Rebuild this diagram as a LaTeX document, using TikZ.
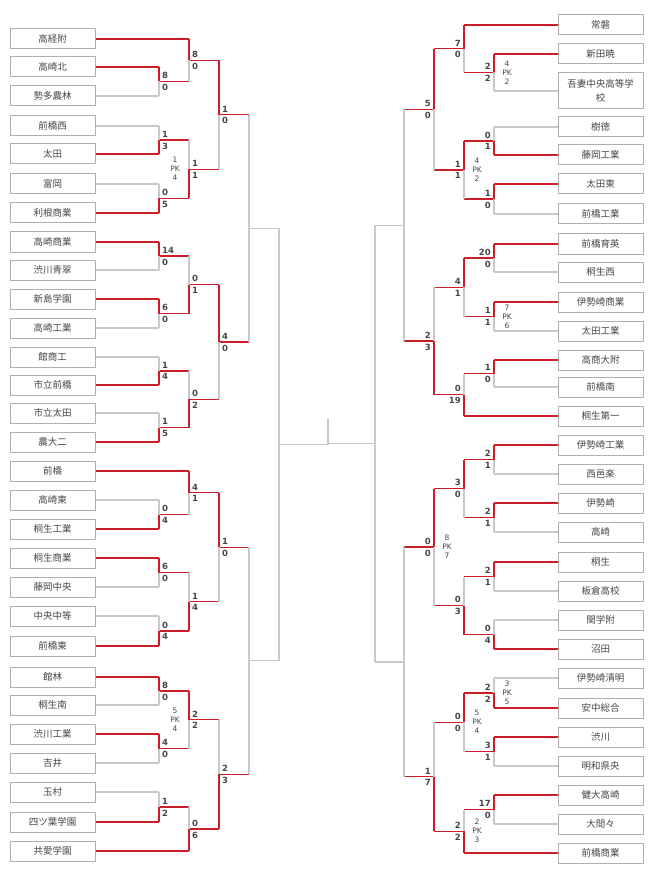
\documentclass[tikz,border=0pt]{standalone}
\usepackage{fontspec}
\newfontfamily\cjk{Noto Sans CJK JP}
\newfontfamily\scf{DejaVu Sans}
\definecolor{rd}{RGB}{204,30,40}
\definecolor{gl}{RGB}{200,200,200}
\definecolor{boxc}{RGB}{175,175,175}
\definecolor{txt}{RGB}{70,70,70}
\tikzset{
 tbox/.style={draw=boxc, line width=1pt, minimum width=85pt, minimum height=20pt, inner sep=1pt, font=\cjk\fontsize{9.5}{14}\selectfont, text=txt, align=center},
 ln/.style={line width=1.3pt},
 sc/.style={font=\scf\bfseries\fontsize{8.5}{9}\selectfont, text=txt, inner xsep=3pt, inner ysep=2.5pt},
 pkt/.style={font=\scf\fontsize{7.5}{9}\selectfont, text=txt, align=center, inner sep=0pt}
}
% match: side, V, y1, y2, Vnext, winner, s1, s2, pk
\newcommand\mm[9]{%
 \pgfmathsetmacro\mY{(#3+#4)/2}%
 \def\tcol{gl}\def\bcol{gl}\def\ocol{gl}%
 \ifx t#6\def\tcol{rd}\def\ocol{rd}\fi
 \ifx b#6\def\bcol{rd}\def\ocol{rd}\fi
 \draw[ln,\ocol] (#2,\mY) -- (#5,\mY);
 \draw[ln,\tcol] (#2,#3) -- (#2,\mY);
 \draw[ln,\bcol] (#2,#4) -- (#2,\mY);
 \ifx L#1
  \node[sc,anchor=south west] at (#2,\mY) {#7};
  \node[sc,anchor=north west] at (#2,\mY) {#8};
  \if\relax\detokenize{#9}\relax\else\node[pkt] at (#2-14,\mY) {#9};\fi
 \else
  \node[sc,anchor=south east] at (#2,\mY) {#7};
  \node[sc,anchor=north east] at (#2,\mY) {#8};
  \if\relax\detokenize{#9}\relax\else\node[pkt] at (#2+13,\mY) {#9};\fi
 \fi
}
% leaves: id, text, y, V, colour
\newcommand\tL[5]{\node[tbox] (#1) at (52.5,#3) {#2};\draw[ln,#5] (#1.east) -- (#4,#3);}
\newcommand\tR[5]{\node[tbox] (#1) at (600.5,#3) {#2};\draw[ln,#5] (#1.west) -- (#4,#3);}
\begin{document}
\begin{tikzpicture}[x=1pt,y=-1pt]
\useasboundingbox (0,0) rectangle (650,877);
% left leaves
\tL{l1}{高経附}{39}{189}{rd}
\tL{l2}{高崎北}{67}{159}{rd}
\tL{l3}{勢多農林}{96}{159}{gl}
\tL{l4}{前橋西}{126}{159}{gl}
\tL{l5}{太田}{154}{159}{rd}
\tL{l6}{富岡}{184}{159}{gl}
\tL{l7}{利根商業}{213}{159}{rd}
\tL{l8}{高崎商業}{242}{159}{rd}
\tL{l9}{渋川青翠}{270}{159}{gl}
\tL{l10}{新島学園}{299}{159}{rd}
\tL{l11}{高崎工業}{328}{159}{gl}
\tL{l12}{館商工}{357}{159}{gl}
\tL{l13}{市立前橋}{385}{159}{rd}
\tL{l14}{市立太田}{413}{159}{gl}
\tL{l15}{農大二}{442}{159}{rd}
\tL{l16}{前橋}{471}{189}{rd}
\tL{l17}{高崎東}{500}{159}{gl}
\tL{l18}{桐生工業}{529}{159}{rd}
\tL{l19}{桐生商業}{558}{159}{rd}
\tL{l20}{藤岡中央}{587}{159}{gl}
\tL{l21}{中央中等}{616}{159}{gl}
\tL{l22}{前橋東}{646}{159}{rd}
\tL{l23}{館林}{677}{159}{rd}
\tL{l24}{桐生南}{705}{159}{gl}
\tL{l25}{渋川工業}{734}{159}{rd}
\tL{l26}{吉井}{763}{159}{gl}
\tL{l27}{玉村}{792}{159}{gl}
\tL{l28}{四ツ葉学園}{822}{159}{rd}
\tL{l29}{共愛学園}{851}{189}{rd}
% left matches
\mm{L}{159}{67}{96}{189}{t}{8}{0}{}\let\qA\mY
\mm{L}{189}{39}{\qA}{219}{t}{8}{0}{}\let\qB\mY
\mm{L}{159}{126}{154}{189}{b}{1}{3}{}\let\qC\mY
\mm{L}{159}{184}{213}{189}{b}{0}{5}{}\let\qD\mY
\mm{L}{189}{\qC}{\qD}{219}{b}{1}{1}{1\\PK\\4}\let\qE\mY
\mm{L}{219}{\qB}{\qE}{249}{t}{1}{0}{}\let\qF\mY
\mm{L}{159}{242}{270}{189}{t}{14}{0}{}\let\qG\mY
\mm{L}{159}{299}{328}{189}{t}{6}{0}{}\let\qH\mY
\mm{L}{189}{\qG}{\qH}{219}{b}{0}{1}{}\let\qI\mY
\mm{L}{159}{357}{385}{189}{b}{1}{4}{}\let\qJ\mY
\mm{L}{159}{413}{442}{189}{b}{1}{5}{}\let\qK\mY
\mm{L}{189}{\qJ}{\qK}{219}{b}{0}{2}{}\let\qL\mY
\mm{L}{219}{\qI}{\qL}{249}{t}{4}{0}{}\let\qM\mY
\mm{L}{249}{\qF}{\qM}{279}{n}{}{}{}\let\qN\mY
\mm{L}{159}{500}{529}{189}{b}{0}{4}{}\let\qO\mY
\mm{L}{189}{471}{\qO}{219}{t}{4}{1}{}\let\qP\mY
\mm{L}{159}{558}{587}{189}{t}{6}{0}{}\let\qQ\mY
\mm{L}{159}{616}{646}{189}{b}{0}{4}{}\let\qR\mY
\mm{L}{189}{\qQ}{\qR}{219}{b}{1}{4}{}\let\qS\mY
\mm{L}{219}{\qP}{\qS}{249}{t}{1}{0}{}\let\qT\mY
\mm{L}{159}{677}{705}{189}{t}{8}{0}{}\let\qU\mY
\mm{L}{159}{734}{763}{189}{t}{4}{0}{}\let\qV\mY
\mm{L}{189}{\qU}{\qV}{219}{t}{2}{2}{5\\PK\\4}\let\qW\mY
\mm{L}{159}{792}{822}{189}{b}{1}{2}{}\let\qX\mY
\mm{L}{189}{\qX}{851}{219}{b}{0}{6}{}\let\qY\mY
\mm{L}{219}{\qW}{\qY}{249}{b}{2}{3}{}\let\qZ\mY
\mm{L}{249}{\qT}{\qZ}{279}{n}{}{}{}\let\qAA\mY
\mm{L}{279}{\qN}{\qAA}{328}{n}{}{}{}\let\qLF\mY
% right leaves
\tR{r1}{常磐}{25}{464}{rd}
\tR{r2}{新田暁}{54}{494}{rd}
\node[tbox,minimum height=36pt,text width=80pt] (r3) at (600.5,91) {吾妻中央高等学\\校};
\draw[ln,gl] (r3.west) -- (494,91);
\tR{r4}{樹徳}{127}{494}{gl}
\tR{r5}{藤岡工業}{155}{494}{rd}
\tR{r6}{太田東}{184}{494}{rd}
\tR{r7}{前橋工業}{214}{494}{gl}
\tR{r8}{前橋育英}{244}{494}{rd}
\tR{r9}{桐生西}{272}{494}{gl}
\tR{r10}{伊勢崎商業}{302}{494}{rd}
\tR{r11}{太田工業}{331}{494}{gl}
\tR{r12}{高商大附}{360}{494}{rd}
\tR{r13}{前橋南}{387}{494}{gl}
\tR{r14}{桐生第一}{416}{464}{rd}
\tR{r15}{伊勢崎工業}{445}{494}{rd}
\tR{r16}{西邑楽}{474}{494}{gl}
\tR{r17}{伊勢崎}{503}{494}{rd}
\tR{r18}{高崎}{532}{494}{gl}
\tR{r19}{桐生}{562}{494}{rd}
\tR{r20}{板倉高校}{591}{494}{gl}
\tR{r21}{関学附}{620}{494}{gl}
\tR{r22}{沼田}{649}{494}{rd}
\tR{r23}{伊勢崎清明}{678}{494}{gl}
\tR{r24}{安中総合}{708}{494}{rd}
\tR{r25}{渋川}{737}{494}{rd}
\tR{r26}{明和県央}{766}{494}{gl}
\tR{r27}{健大高崎}{795}{494}{rd}
\tR{r28}{大間々}{824}{494}{gl}
\tR{r29}{前橋商業}{853}{464}{rd}
% right matches
\mm{R}{494}{54}{91}{464}{t}{2}{2}{4\\PK\\2}\let\qa\mY
\mm{R}{464}{25}{\qa}{434}{t}{7}{0}{}\let\qb\mY
\mm{R}{494}{127}{155}{464}{b}{0}{1}{}\let\qc\mY
\mm{R}{494}{184}{214}{464}{t}{1}{0}{}\let\qd\mY
\mm{R}{464}{\qc}{\qd}{434}{t}{1}{1}{4\\PK\\2}\let\qe\mY
\mm{R}{434}{\qb}{\qe}{404}{t}{5}{0}{}\let\qf\mY
\mm{R}{494}{244}{272}{464}{t}{20}{0}{}\let\qg\mY
\mm{R}{494}{302}{331}{464}{t}{1}{1}{7\\PK\\6}\let\qh\mY
\mm{R}{464}{\qg}{\qh}{434}{t}{4}{1}{}\let\qi\mY
\mm{R}{494}{360}{387}{464}{t}{1}{0}{}\let\qj\mY
\mm{R}{464}{\qj}{416}{434}{b}{0}{19}{}\let\qk\mY
\mm{R}{434}{\qi}{\qk}{404}{b}{2}{3}{}\let\ql\mY
\mm{R}{404}{\qf}{\ql}{375}{n}{}{}{}\let\qm\mY
\mm{R}{494}{445}{474}{464}{t}{2}{1}{}\let\qn\mY
\mm{R}{494}{503}{532}{464}{t}{2}{1}{}\let\qo\mY
\mm{R}{464}{\qn}{\qo}{434}{t}{3}{0}{}\let\qp\mY
\mm{R}{494}{562}{591}{464}{t}{2}{1}{}\let\qq\mY
\mm{R}{494}{620}{649}{464}{b}{0}{4}{}\let\qr\mY
\mm{R}{464}{\qq}{\qr}{434}{b}{0}{3}{}\let\qs\mY
\mm{R}{434}{\qp}{\qs}{404}{t}{0}{0}{8\\PK\\7}\let\qt\mY
\mm{R}{494}{678}{708}{464}{b}{2}{2}{3\\PK\\5}\let\qu\mY
\mm{R}{494}{737}{766}{464}{t}{3}{1}{}\let\qv\mY
\mm{R}{464}{\qu}{\qv}{434}{t}{0}{0}{5\\PK\\4}\let\qw\mY
\mm{R}{494}{795}{824}{464}{t}{17}{0}{}\let\qx\mY
\mm{R}{464}{\qx}{853}{434}{b}{2}{2}{2\\PK\\3}\let\qy\mY
\mm{R}{434}{\qw}{\qy}{404}{b}{1}{7}{}\let\qz\mY
\mm{R}{404}{\qt}{\qz}{375}{n}{}{}{}\let\qaa\mY
\mm{R}{375}{\qm}{\qaa}{328}{n}{}{}{}\let\qRF\mY
\coordinate (ctop) at (328,419);
\coordinate (cbot) at (328,\qLF);
\draw[ln,gl] (ctop) -- (cbot);
\end{tikzpicture}
\end{document}
